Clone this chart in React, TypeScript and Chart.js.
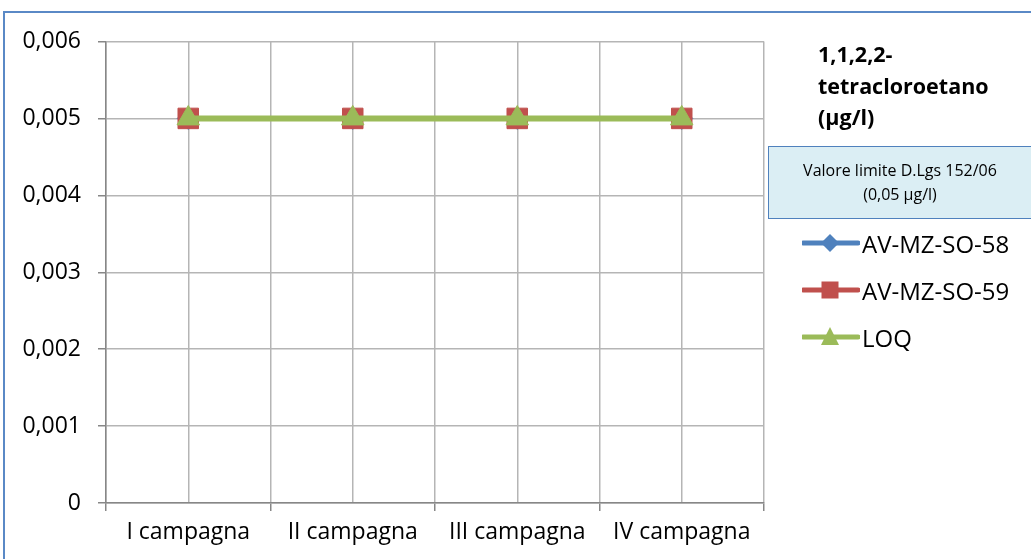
import React, { useEffect, useRef } from 'react';
import { Chart, registerables } from 'chart.js';

Chart.register(...registerables);

const categories = ['I campagna', 'II campagna', 'III campagna', 'IV campagna'];
const seriesSO58 = [0.005, 0.005, 0.005, 0.005];
const seriesSO59 = [0.005, 0.005, 0.005, 0.005];
const seriesLOQ = [0.005, 0.005, 0.005, 0.005];
const yMin = 0;
const yMax = 0.006;
const yStep = 0.001;
const titleLines = ['1,1,2,2-', 'tetracloroetano', '(µg/l)'];
const limitLines = ['Valore limite D.Lgs 152/06', '(0,05 µg/l)'];
const legendNames = ['AV-MZ-SO-58', 'AV-MZ-SO-59', 'LOQ'];

const BLUE = '#4f81bd';
const RED = '#c0504d';
const GREEN = '#9bbb59';
const GRID = '#b5b5b5';
const AXIS = '#878787';
const FONT = "'Open Sans', 'Noto Sans', sans-serif";

const isHalf = (v: number) => Math.abs(v - Math.floor(v) - 0.5) < 1e-6;

function LegendIcon({ kind, color }: { kind: string; color: string }) {
  let marker: React.ReactNode = null;
  if (kind === 'diamond') marker = <polygon points="28,3 37,12 28,21 19,12" fill={color} />;
  if (kind === 'square') marker = <rect x="19.5" y="3.5" width="17" height="17" fill={color} />;
  if (kind === 'triangle') marker = <polygon points="28,2 37,20 19,20" fill={color} />;
  return (
    <svg width="58" height="24" style={{ display: 'block' }}>
      <line x1="1" y1="12" x2="56" y2="12" stroke={color} strokeWidth="5" strokeLinecap="round" />
      {marker}
    </svg>
  );
}

export default function App() {
  const canvasRef = useRef<HTMLCanvasElement | null>(null);

  useEffect(() => {
    const canvas = canvasRef.current;
    if (!canvas) return;
    const toPts = (arr: number[]) => arr.map((v, i) => ({ x: i + 0.5, y: v }));
    const chart = new Chart(canvas, {
      type: 'line',
      data: {
        datasets: [
          {
            label: legendNames[0],
            data: toPts(seriesSO58),
            borderColor: BLUE,
            backgroundColor: BLUE,
            borderWidth: 5,
            pointStyle: 'rectRot',
            pointRadius: 11,
            pointBorderWidth: 1,
            order: 3,
          },
          {
            label: legendNames[1],
            data: toPts(seriesSO59),
            borderColor: RED,
            backgroundColor: RED,
            borderWidth: 5,
            pointStyle: 'rect',
            pointRadius: 14.5,
            pointBorderWidth: 1,
            order: 2,
          },
          {
            label: legendNames[2],
            data: toPts(seriesLOQ),
            borderColor: GREEN,
            backgroundColor: GREEN,
            borderWidth: 6,
            pointStyle: 'triangle',
            pointRadius: 13,
            pointBorderWidth: 1,
            order: 1,
          },
        ],
      },
      options: {
        responsive: false,
        animation: false,
        layout: { padding: { left: 0, right: 267, top: 41.5, bottom: 0 } },
        plugins: { legend: { display: false }, tooltip: { enabled: false } },
        scales: {
          x: {
            type: 'linear',
            min: 0,
            max: categories.length,
            afterFit: (s: any) => {
              s.height = 56;
            },
            afterBuildTicks: (s: any) => {
              const t = [];
              for (let i = 0; i <= categories.length * 2; i++) t.push({ value: i / 2 });
              s.ticks = t;
            },
            ticks: {
              autoSkip: false,
              maxRotation: 0,
              padding: 8,
              color: '#000',
              font: { family: FONT, size: 23 },
              callback: (v: any) => {
                const n = Number(v);
                if (isHalf(n)) return categories[Math.floor(n)];
                return '';
              },
            },
            grid: {
              color: GRID,
              lineWidth: 1.5,
              tickLength: 8,
              tickColor: (ctx: any) => (ctx.tick && isHalf(ctx.tick.value) ? 'rgba(0,0,0,0)' : AXIS),
              tickWidth: 1.5,
            },
            border: { color: AXIS, width: 1.5 },
          },
          y: {
            min: yMin,
            max: yMax,
            afterFit: (s: any) => {
              s.width = 106;
            },
            ticks: {
              stepSize: yStep,
              padding: 17,
              color: '#000',
              font: { family: FONT, size: 23 },
              callback: (v: any) => {
                const n = Number(v);
                if (Math.abs(n) < 1e-12) return '0';
                return n.toFixed(3).replace('.', ',');
              },
            },
            grid: {
              color: GRID,
              lineWidth: 1.5,
              tickLength: 8,
              tickColor: AXIS,
              tickWidth: 1.5,
            },
            border: { color: AXIS, width: 1.5 },
          },
        },
      },
    });
    return () => chart.destroy();
  }, []);

  const icons = [
    { kind: 'diamond', color: BLUE, y: 243 },
    { kind: 'square', color: RED, y: 290 },
    { kind: 'triangle', color: GREEN, y: 337 },
  ];

  return (
    <div style={{ position: 'absolute', left: 0, top: 0, width: 1031, height: 559, overflow: 'hidden', background: '#fff' }}>
      <div
        style={{
          position: 'absolute',
          left: 3,
          top: 11,
          width: 1060,
          height: 600,
          border: '2px solid #5a89c6',
          boxSizing: 'border-box',
        }}
      />
      <canvas ref={canvasRef} width={1031} height={559} style={{ position: 'absolute', left: 0, top: 0 }} />
      <div
        style={{
          position: 'absolute',
          left: 818,
          top: 38,
          fontFamily: FONT,
          fontWeight: 700,
          fontSize: 21.5,
          lineHeight: '31.5px',
          color: '#000',
          whiteSpace: 'nowrap',
        }}
      >
        {titleLines.map((t, i) => (
          <div key={i}>{t}</div>
        ))}
      </div>
      <div
        style={{
          position: 'absolute',
          left: 768,
          top: 146,
          width: 280,
          height: 73,
          background: '#dbeef4',
          border: '1.5px solid #4f81bd',
          boxSizing: 'border-box',
        }}
      />
      <div
        style={{
          position: 'absolute',
          left: 769,
          top: 158,
          width: 262,
          textAlign: 'center',
          fontFamily: FONT,
          fontSize: 16,
          lineHeight: '24px',
          color: '#000',
          whiteSpace: 'nowrap',
        }}
      >
        {limitLines.map((t, i) => (
          <div key={i}>{t}</div>
        ))}
      </div>
      {icons.map((ic, i) => (
        <div
          key={i}
          style={{
            position: 'absolute',
            left: 802,
            top: ic.y - 17,
            height: 34,
            display: 'flex',
            alignItems: 'center',
            fontFamily: FONT,
            fontSize: 24,
            color: '#000',
            whiteSpace: 'nowrap',
          }}
        >
          <LegendIcon kind={ic.kind} color={ic.color} />
          <span style={{ marginLeft: 2 }}>{legendNames[i]}</span>
        </div>
      ))}
    </div>
  );
}
